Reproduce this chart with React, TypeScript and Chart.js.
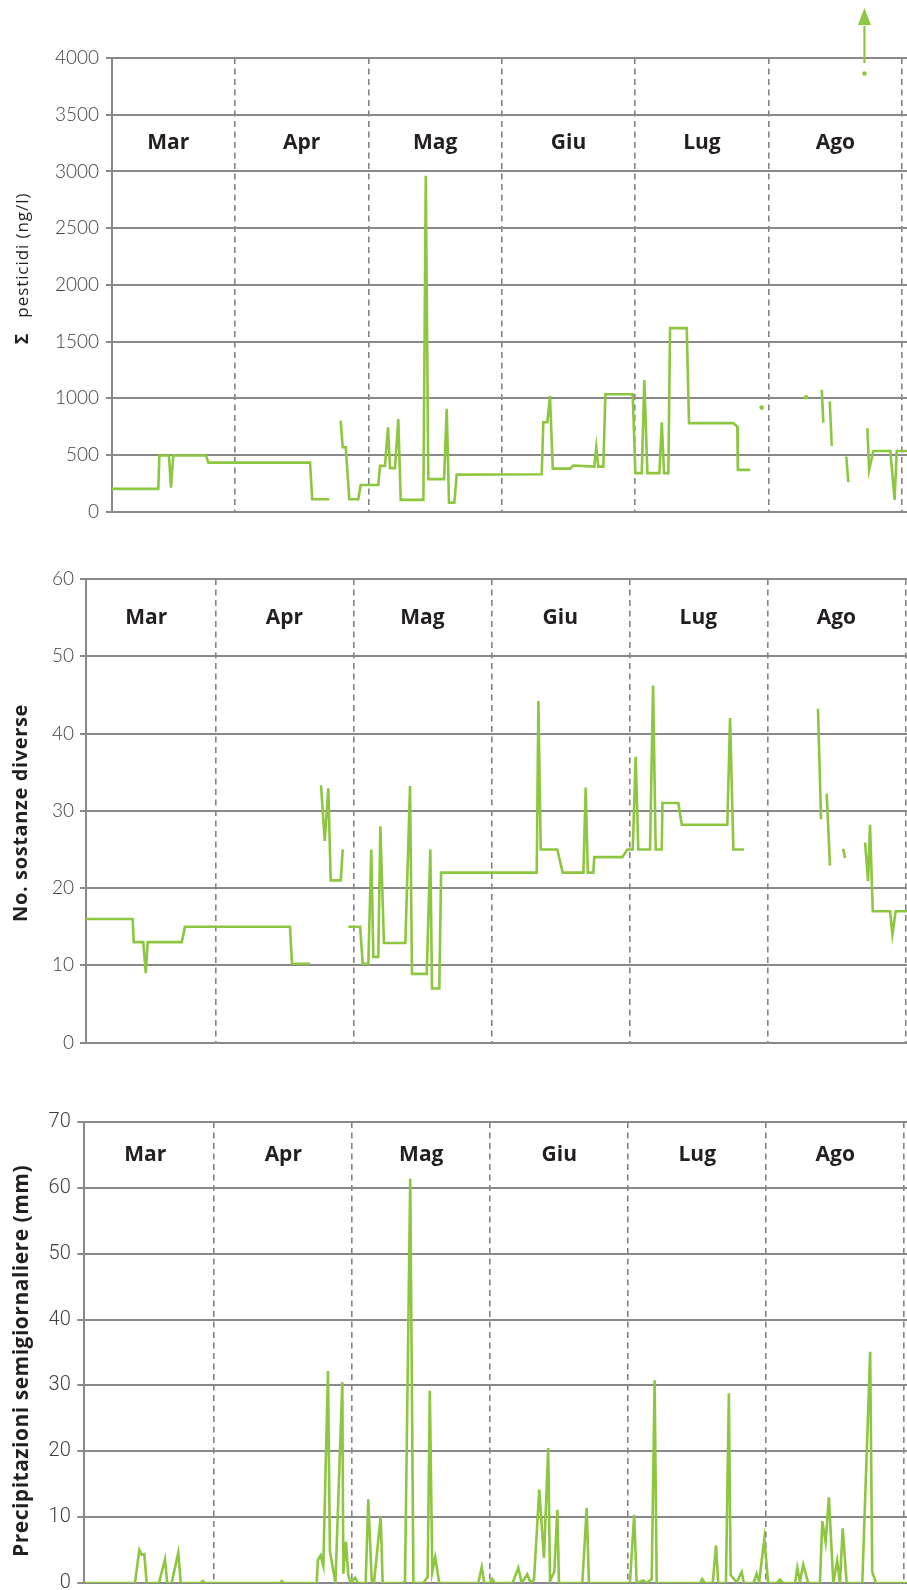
import React, { useEffect, useRef } from 'react';
import { Chart, registerables } from 'chart.js';

Chart.register(...registerables);

// ---------- DATA ----------
// x positions are expressed in months from 1 March (0 = Mar 1, 1 = Apr 1, ...)
const months = ['Mar', 'Apr', 'Mag', 'Giu', 'Lug', 'Ago'];
const monthBoundaries = [1, 2, 3, 4, 5, 6];

// Σ pesticidi (ng/l) – null = no sample (gap)
const pestX = [
  0.078, 0.425, 0.433, 0.505, 0.52, 0.537, 0.783, 0.8, 1.562, 1.579, 1.707, 1.75,
  1.792, 1.807, 1.83, 1.857, 1.924, 1.942, 2.074, 2.087, 2.124, 2.147,
  2.162, 2.199, 2.224, 2.242, 2.412, 2.43, 2.449, 2.567, 2.587, 2.604,
  2.644, 2.662, 3.299, 3.311, 3.341, 3.361, 3.382, 3.511, 3.536, 3.693,
  3.708, 3.723, 3.761, 3.776, 3.981, 4.001, 4.049, 4.068, 4.091, 4.181,
  4.199, 4.216, 4.248, 4.261, 4.386, 4.403, 4.735, 4.765, 4.769, 4.861,
  4.9, 4.948, 5.1, 5.28, 5.34, 5.398, 5.41, 5.43, 5.458, 5.473, 5.53,
  5.582, 5.597, 5.66, 5.718, 5.73, 5.74, 5.753, 5.785, 5.912, 5.944, 5.96, 6.05,
];
const pestY = [
  200, 200, 495, 495, 212, 495, 495, 432, 432, 109, 109, null,
  803, 568, 568, 109, 109, 235, 235, 403, 403, 744,
  383, 383, 815, 103, 103, 2961, 286, 286, 906, 79,
  79, 326, 330, 788, 788, 1020, 379, 379, 406, 397,
  568, 397, 397, 1035, 1035, 339, 339, 1161, 339, 339,
  788, 339, 339, 1618, 1618, 780, 780, 750, 368, 368,
  null, 917, null, 1009, null, 1073, 785, null, 970, 580, null,
  485, 259, null, 3863, null, 735, 368, 535, 535, 103, 535, 535,
];
const pestOffScaleX = 5.718; // value beyond scale, marked by an arrow

// No. sostanze diverse
const subX = [
  0.063, 0.401, 0.409, 0.478, 0.496, 0.51, 0.757, 0.78, 1.541, 1.556, 1.686, 1.73,
  1.766, 1.793, 1.819, 1.836, 1.909, 1.923, 1.94,
  1.964, 2.049, 2.068, 2.109, 2.13, 2.145, 2.181, 2.196, 2.222, 2.377,
  2.411, 2.425, 2.532, 2.558, 2.57, 2.623, 2.636, 3.329, 3.341, 3.358,
  3.478, 3.517, 3.667, 3.684, 3.699, 3.739, 3.746, 3.949, 3.986, 4.025,
  4.046, 4.065, 4.15, 4.172, 4.191, 4.235, 4.24, 4.355, 4.38, 4.71,
  4.73, 4.754, 4.831,
  5.0, 5.367, 5.389, 5.41, 5.43, 5.454, 5.5, 5.549, 5.563, 5.63,
  5.708, 5.73, 5.744, 5.764, 5.89, 5.906, 5.93, 6.05,
];
const subY = [
  16, 16, 13, 13, 9, 13, 13, 15, 15, 10.2, 10.2, null,
  33.3, 26.1, 32.9, 21, 21, 25, null,
  15, 15, 10.2, 10.2, 25, 11.1, 11.1, 28, 12.9, 12.9,
  33.2, 8.9, 8.9, 25, 7, 7, 22, 22, 44.2, 25,
  25, 22, 22, 33, 22, 22, 24, 24, 25, 25,
  37, 25, 25, 46.2, 25, 25, 31, 31, 28.2, 28.2,
  42, 25, 25,
  null, 43.2, 28.9, null, 32.2, 22.9, null, 25.1, 23.9, null,
  25.9, 20.9, 28.2, 17, 17, 14, 17, 17,
];

// Precipitazioni semigiornaliere (mm)
const rainX = [
  0.058, 0.425, 0.457, 0.474, 0.493, 0.51, 0.599, 0.643, 0.659, 0.691,
  0.739, 0.757, 0.901, 0.916, 0.933, 1.476, 1.488, 1.505, 1.742, 1.751,
  1.771, 1.79, 1.824, 1.838, 1.878, 1.928, 1.935, 1.954, 1.971, 1.988,
  2.02, 2.043, 2.097, 2.116, 2.141, 2.157, 2.206, 2.22, 2.37, 2.382,
  2.42, 2.443, 2.514, 2.546, 2.562, 2.58, 2.601, 2.63, 2.913, 2.938,
  2.957, 2.998, 3.014, 3.034, 3.162, 3.203, 3.228, 3.268, 3.293, 3.317,
  3.355, 3.389, 3.42, 3.433, 3.464, 3.486, 3.498, 3.667, 3.699, 3.715,
  4.012, 4.043, 4.061, 4.109, 4.133, 4.17, 4.191, 4.206, 4.52, 4.536,
  4.556, 4.612, 4.636, 4.652, 4.708, 4.729, 4.742, 4.786, 4.822, 4.838,
  4.906, 4.918, 4.93, 4.949, 4.986, 5.014, 5.075, 5.099, 5.123, 5.208,
  5.225, 5.244, 5.268, 5.304, 5.389, 5.406, 5.43, 5.454, 5.486, 5.514,
  5.534, 5.554, 5.583, 5.696, 5.753, 5.768, 5.795, 6.05,
];
const rainY = [
  0, 0, 5, 4.3, 4.4, 0, 0, 3.6, 0, 0,
  4.6, 0, 0, 0.3, 0, 0, 0.3, 0, 0, 3.5,
  4.2, 2.6, 32.2, 4.8, 0, 30.5, 1.4, 6.3, 1.2, 0,
  0.8, 0, 0, 12.7, 0.4, 0, 10.1, 0, 0, 0.3,
  61.4, 0, 0, 0.9, 29.2, 1.7, 3.9, 0, 0, 2.4,
  0, 0, 0.6, 0, 0, 2.3, 0, 1.3, 0, 0.5,
  14.2, 3.8, 20.5, 0.3, 1.7, 11.1, 0, 0, 11.4, 0,
  0, 10.3, 0, 0.4, 0, 0.6, 30.8, 0, 0, 0.6,
  0, 0, 5.7, 0, 0, 28.8, 1.2, 0.1, 1.7, 0,
  0, 0.6, 1.4, 0.2, 6.7, 0, 0, 0.5, 0, 0,
  2.3, 0.2, 2.8, 0, 0, 9.4, 6.2, 13, 0, 3.4,
  0, 8.3, 0, 0, 35.1, 1.7, 0, 0,
];

// ---------- STYLE ----------
const GREEN = '#8dc63f';
const GRID = '#88888d';
const DASH = '#828287';
const TEXT = '#231f20';
const TICK = '#404042';
const TITLE_FONT = '"Open Sans"';

type TitlePart = { text: string; weight: string; size: number; target?: number };

type Cfg = {
  top: number;
  height: number;
  padTop: number;
  padBottom: number;
  axisWidth: number;
  xMin: number;
  xMax: number;
  yMax: number;
  yStep: number;
  xs: number[];
  ys: (number | null)[];
  tickFont: { family: string; size: number; weight: string };
  tickPadding: number;
  tickLength: number;
  labelY: number;
  title: TitlePart[];
  titleGap: number;
  titleX: number;
  titleY: number;
  arrowX?: number;
};

const configs: Cfg[] = [
  {
    top: 0, height: 530, padTop: 58, padBottom: 18, axisWidth: 112,
    xMin: 0.078, xMax: 6.037, yMax: 4000, yStep: 500,
    xs: pestX, ys: pestY,
    tickFont: { family: 'Lato', size: 19, weight: '300' }, tickPadding: 7, tickLength: 6,
    labelY: 3250,
    title: [
      { text: 'Σ', weight: 'bold', size: 18 },
      { text: 'pesticidi (ng/l)', weight: 'normal', size: 17, target: 125 },
    ],
    titleGap: 16, titleX: 23, titleY: 268.5,
    arrowX: pestOffScaleX,
  },
  {
    top: 530, height: 530, padTop: 49, padBottom: 17, axisWidth: 86,
    xMin: 0.063, xMax: 6.012, yMax: 60, yStep: 10,
    xs: subX, ys: subY,
    tickFont: { family: 'Lato', size: 19, weight: '300' }, tickPadding: 6, tickLength: 6,
    labelY: 55,
    title: [{ text: 'No. sostanze diverse', weight: 'bold', size: 20, target: 218 }],
    titleGap: 0, titleX: 21, titleY: 283,
  },
  {
    top: 1060, height: 560, padTop: 62, padBottom: 37, axisWidth: 84.3,
    xMin: 0.058, xMax: 6.02, yMax: 70, yStep: 10,
    xs: rainX, ys: rainY,
    tickFont: { family: 'Roboto', size: 20, weight: '300' }, tickPadding: 6.5, tickLength: 7,
    labelY: 65,
    title: [{ text: 'Precipitazioni semigiornaliere (mm)', weight: 'bold', size: 21, target: 392 }],
    titleGap: 0, titleX: 22, titleY: 301,
  },
];

function makeOverlay(cfg: Cfg) {
  return {
    id: 'overlay',
    afterDatasetsDraw(chart: any) {
      const { ctx, chartArea, scales } = chart;
      const x = scales.x;
      const y = scales.y;
      ctx.save();
      // month labels
      ctx.fillStyle = TEXT;
      ctx.font = `bold 21px ${TITLE_FONT}`;
      ctx.textAlign = 'center';
      ctx.textBaseline = 'middle';
      months.forEach((m, i) => {
        ctx.fillText(m, x.getPixelForValue(i + 0.5), y.getPixelForValue(cfg.labelY));
      });
      // arrow for off-scale value
      if (cfg.arrowX !== undefined) {
        const ax = x.getPixelForValue(cfg.arrowX);
        const t = chartArea.top;
        ctx.strokeStyle = GREEN;
        ctx.fillStyle = GREEN;
        ctx.lineWidth = 2.2;
        ctx.beginPath();
        ctx.moveTo(ax, t + 5);
        ctx.lineTo(ax, t - 32);
        ctx.stroke();
        ctx.beginPath();
        ctx.moveTo(ax - 6.5, t - 33);
        ctx.lineTo(ax + 6.5, t - 33);
        ctx.lineTo(ax, t - 50);
        ctx.closePath();
        ctx.fill();
      }
      ctx.restore();

      // y-axis title (rotated)
      ctx.save();
      ctx.translate(cfg.titleX, cfg.titleY);
      ctx.rotate(-Math.PI / 2);
      ctx.fillStyle = TEXT;
      ctx.textAlign = 'left';
      ctx.textBaseline = 'middle';
      const items = cfg.title.map((p) => {
        ctx.font = `${p.weight} ${p.size}px ${TITLE_FONT}`;
        const w0 = ctx.measureText(p.text).width;
        const ls = p.target ? (p.target - w0) / p.text.length : 0;
        return { p, w: p.target ? p.target : w0, ls };
      });
      const total = items.reduce((a, b) => a + b.w, 0) + cfg.titleGap * (items.length - 1);
      let cx = -total / 2;
      items.forEach((it) => {
        ctx.font = `${it.p.weight} ${it.p.size}px ${TITLE_FONT}`;
        (ctx as any).letterSpacing = `${it.ls}px`;
        ctx.fillText(it.p.text, cx, 0);
        cx += it.w + cfg.titleGap;
      });
      (ctx as any).letterSpacing = '0px';
      ctx.restore();
    },
  };
}

function LineChart({ cfg }: { cfg: Cfg }) {
  const ref = useRef<HTMLCanvasElement | null>(null);
  useEffect(() => {
    if (!ref.current) return;
    const ys = cfg.ys;
    const data = cfg.xs.map((xv, i) => ({ x: xv, y: ys[i] }));
    const chart = new Chart(ref.current, {
      type: 'line',
      data: {
        datasets: [
          {
            data: data as any,
            borderColor: GREEN,
            backgroundColor: GREEN,
            borderWidth: 2.6,
            tension: 0,
            spanGaps: false,
            pointRadius: (c: any) => {
              const i = c.dataIndex;
              if (ys[i] == null) return 0;
              const prev = i > 0 ? ys[i - 1] : null;
              const next = i < ys.length - 1 ? ys[i + 1] : null;
              return prev == null && next == null ? 2.3 : 0;
            },
            pointBorderWidth: 0,
            pointBackgroundColor: GREEN,
            pointHoverRadius: 0,
          },
        ],
      },
      options: {
        animation: false,
        responsive: false,
        maintainAspectRatio: false,
        events: [],
        layout: { padding: { top: cfg.padTop, bottom: cfg.padBottom, left: 0, right: 0 } },
        plugins: { legend: { display: false }, tooltip: { enabled: false } },
        scales: {
          x: {
            type: 'linear',
            min: cfg.xMin,
            max: cfg.xMax,
            afterBuildTicks: (s: any) => {
              s.ticks = monthBoundaries.map((v) => ({ value: v }));
            },
            ticks: { display: false },
            grid: { color: DASH, lineWidth: 1.6, drawTicks: false },
            border: { display: false, dash: [6, 4.5] },
          },
          y: {
            min: 0,
            max: cfg.yMax,
            ticks: {
              stepSize: cfg.yStep,
              color: TICK,
              padding: cfg.tickPadding,
              font: cfg.tickFont as any,
              callback: (v: any) => String(v),
            },
            grid: { color: GRID, lineWidth: 2, tickLength: cfg.tickLength, drawTicks: true },
            border: { display: true, color: GRID, width: 2 },
            afterFit: (s: any) => {
              s.width = cfg.axisWidth;
            },
          },
        },
      },
      plugins: [makeOverlay(cfg)],
    });
    return () => chart.destroy();
  }, [cfg]);
  return (
    <canvas
      ref={ref}
      width={907}
      height={cfg.height}
      style={{ position: 'absolute', left: 0, top: cfg.top, width: 907, height: cfg.height, display: 'block' }}
    />
  );
}

export default function App() {
  return (
    <div
      style={{
        position: 'absolute',
        left: 0,
        top: 0,
        width: 907,
        height: 1590,
        overflow: 'hidden',
        background: '#fff',
      }}
    >
      {configs.map((c, i) => (
        <LineChart key={i} cfg={c} />
      ))}
    </div>
  );
}
